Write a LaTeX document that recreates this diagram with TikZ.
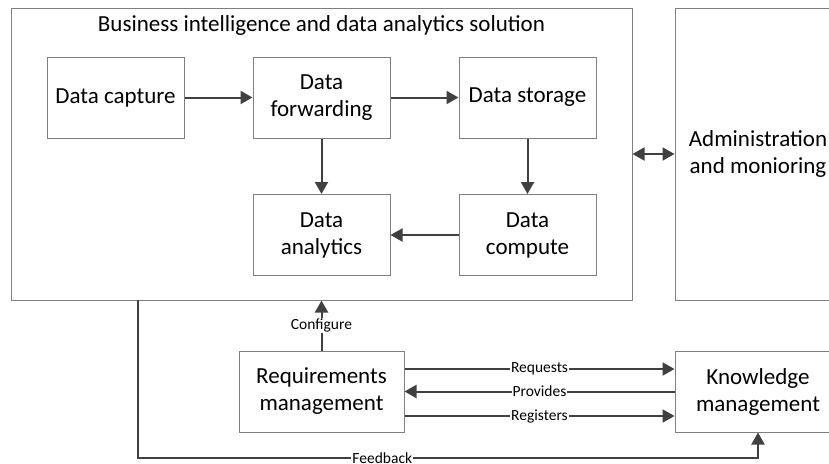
\documentclass[tikz,border=0pt]{standalone}
\usepackage{fontspec}
\setmainfont{Carlito}
\usetikzlibrary{arrows.meta,calc}
\definecolor{linegray}{HTML}{404040}
\definecolor{boxgray}{HTML}{7F7F7F}
\tikzset{
  x=1pt, y=-1pt,
  box/.style={draw=boxgray, line width=1pt, fill=white, inner sep=0pt,
    align=center, font=\fontsize{23}{27}\selectfont},
  stagebox/.style={box, minimum width=137pt, minimum height=81pt},
  tip/.style={Triangle[length=12pt,width=13pt]},
  conn/.style={draw=linegray, line width=2pt, -{Triangle[length=12pt,width=13pt]}},
  tag/.style={fill=white, inner sep=1pt, text=black,
    font=\fontsize{15.5}{17}\selectfont}
}
\begin{document}
\begin{tikzpicture}
\useasboundingbox (0,0) rectangle (829,463);

% outer solution frame and side panel
\node[box, minimum width=621pt, minimum height=292pt] (bi) at (321.5,154) {};
\node[font=\fontsize{23}{27}\selectfont] (title) at (321.5,25)
  {Business intelligence and data analytics solution};
\node[box, minimum width=166pt, minimum height=292pt] (admin) at (758,154)
  {Administration\\and monioring};

% processing stages
\node[stagebox] (capture) at (115.5,97.5) {Data capture};
\node[stagebox] (forward) at (321.5,97.5) {Data\\forwarding};
\node[stagebox] (storage) at (527.5,97.5) {Data storage};
\node[stagebox] (analytics) at (321.5,235) {Data\\analytics};
\node[stagebox] (compute) at (527.5,235) {Data\\compute};

% management blocks
\node[box, minimum width=165pt, minimum height=81pt] (req) at (321.5,391.5)
  {Requirements\\management};
\node[box, minimum width=166pt, minimum height=81pt] (know) at (758,391.5)
  {Knowledge\\management};

% data flow
\draw[conn] (capture) -- (forward);
\draw[conn] (forward) -- (storage);
\draw[conn] (forward) -- (analytics);
\draw[conn] (storage) -- (compute);
\draw[conn] (compute) -- (analytics);
\draw[conn, {Triangle[length=12pt,width=13pt]}-{Triangle[length=12pt,width=13pt]}]
  (bi.east) -- (admin.west);

% management links
\draw[conn] (req.north) -- node[tag, pos=0.5] {Configure} (bi.south -| req.north);
\draw[conn] ($(req.east)+(0,-22.5)$) -- node[tag] {Requests} ($(know.west)+(0,-22.5)$);
\draw[conn] (know.west) -- node[tag] {Provides} (req.east);
\draw[conn] ($(req.east)+(0,24.5)$) -- node[tag] {Registers} ($(know.west)+(0,24.5)$);

% feedback loop
\coordinate (fbstart) at (138,300);
\coordinate (fbcorner) at (138,458);
\draw[conn] (fbstart) -- (fbcorner) -- node[tag, pos=0.394] {Feedback} (fbcorner -| know.south) -- (know.south);
\end{tikzpicture}
\end{document}
